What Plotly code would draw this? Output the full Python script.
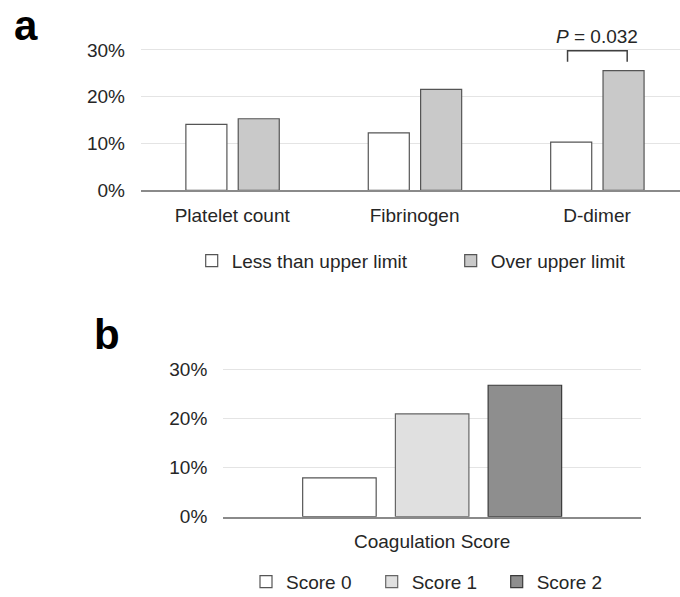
import plotly.graph_objects as go

# ---------------- data ----------------
categories_a = ["Platelet count", "Fibrinogen", "D-dimer"]
less_than_upper = [14.1, 12.3, 10.3]
over_upper = [15.3, 21.6, 25.6]
series_a_names = ["Less than upper limit", "Over upper limit"]

categories_b = ["Coagulation Score"]
score_names = ["Score 0", "Score 1", "Score 2"]
score_values = [7.9, 20.9, 26.7]

y_ticks = [0, 10, 20, 30]
y_tick_labels = ["0%", "10%", "20%", "30%"]
p_value_text = "<i>P</i> = 0.032"

# ---------------- style ----------------
W, H = 680, 597
FONT = "Liberation Sans, Arial, sans-serif"
TXT = "#262626"
GRID = "#e4e4e4"
AXIS = "#8a8a8a"
FS = 19

fig = go.Figure()

# panel a bars
bw_a = 0.225
off_a = [-0.254, 0.033]
fills_a = ["#ffffff", "#c9c9c9"]
lines_a = ["#555555", "#555555"]
for i, (name, vals) in enumerate(zip(series_a_names, [less_than_upper, over_upper])):
    fig.add_trace(go.Bar(
        x=categories_a, y=vals, name=name, width=bw_a, offset=off_a[i],
        marker=dict(color=fills_a[i], line=dict(color=lines_a[i], width=1.2)),
        xaxis="x", yaxis="y", legend="legend" if i == 0 else "legend2",
    ))

# panel b bars
bw_b = 0.176
off_b = [-0.310, -0.088, 0.134]
fills_b = ["#ffffff", "#e0e0e0", "#8e8e8e"]
lines_b = ["#555555", "#666666", "#3a3a3a"]
legends_b = ["legend3", "legend4", "legend5"]
for i, (name, val) in enumerate(zip(score_names, score_values)):
    fig.add_trace(go.Bar(
        x=categories_b, y=[val], name=name, width=bw_b, offset=off_b[i],
        marker=dict(color=fills_b[i], line=dict(color=lines_b[i], width=1.2)),
        xaxis="x2", yaxis="y2", legend=legends_b[i],
    ))

# bracket for P value (D-dimer group)
gi = categories_a.index("D-dimer")
c_white = gi + off_a[0] + bw_a / 2
c_gray = gi + off_a[1] + bw_a / 2
bx0, bx1 = c_white - 0.02, c_gray + 0.02
fig.add_shape(type="path",
              path=f"M {bx0},27.5 L {bx0},29.85 L {bx1},29.85 L {bx1},27.5",
              xref="x", yref="y", line=dict(color="#404040", width=1.5))
fig.add_annotation(x=(bx0 + bx1) / 2, y=1 - 36 / H, xref="x", yref="paper",
                   xanchor="center", yanchor="middle",
                   text=p_value_text, showarrow=False,
                   font=dict(family=FONT, size=FS, color=TXT))

# panel letters
fig.add_annotation(x=26 / W, y=1.0, xref="paper", yref="paper", text="<b>a</b>",
                   xanchor="center", yanchor="top",
                   showarrow=False, font=dict(family=FONT, size=42, color="#000000"))
fig.add_annotation(x=107 / W, y=1 - 334 / H, xref="paper", yref="paper", text="<b>b</b>",
                   xanchor="center", yanchor="middle",
                   showarrow=False, font=dict(family=FONT, size=42, color="#000000"))

# axes geometry
ya0, ya30 = 190.3, 50.0
per_a = (ya0 - ya30) / 30
top_a = ya0 - 32 * per_a
yb0, yb30 = 516.7, 369.0
per_b = (yb0 - yb30) / 30
top_b = yb0 - 32 * per_b

axis_common = dict(showgrid=False, zeroline=False, ticks="", showline=True,
                   linecolor=AXIS, linewidth=1.5, automargin=False,
                   tickfont=dict(family=FONT, size=FS, color=TXT), ticklabelstandoff=7)
yaxis_common = dict(range=[0, 32], tickvals=y_ticks, ticktext=y_tick_labels,
                    showgrid=True, gridcolor=GRID, gridwidth=1, zeroline=False,
                    showline=False, ticks="", automargin=False,
                    tickfont=dict(family=FONT, size=FS, color=TXT), ticklabelstandoff=15)

leg_common = dict(orientation="h", yanchor="middle", xanchor="left",
                  xref="container", yref="container",
                  font=dict(family=FONT, size=FS, color=TXT),
                  bgcolor="rgba(0,0,0,0)", itemwidth=30)

def lx(text_start):
    return (text_start - 40) / W

fig.update_layout(
    width=W, height=H, autosize=False,
    margin=dict(l=0, r=0, t=0, b=0, autoexpand=False),
    paper_bgcolor="white", plot_bgcolor="white",
    barmode="overlay",
    showlegend=True,
    xaxis=dict(domain=[141 / W, 1.0], range=[-0.5, 2.455], anchor="y", **axis_common),
    yaxis=dict(domain=[1 - ya0 / H, 1 - top_a / H], anchor="x", **yaxis_common),
    xaxis2=dict(domain=[223.3 / W, 641 / W], range=[-0.5, 0.5], anchor="y2", **axis_common),
    yaxis2=dict(domain=[1 - yb0 / H, 1 - top_b / H], anchor="x2", **yaxis_common),
    legend=dict(x=lx(231.7), y=1 - 260.7 / H, **leg_common),
    legend2=dict(x=lx(490.7), y=1 - 260.7 / H, **leg_common),
    legend3=dict(x=lx(286), y=1 - 581.7 / H, **leg_common),
    legend4=dict(x=lx(411.7), y=1 - 581.7 / H, **leg_common),
    legend5=dict(x=lx(536.7), y=1 - 581.7 / H, **leg_common),
)

fig.write_html("out.html")
